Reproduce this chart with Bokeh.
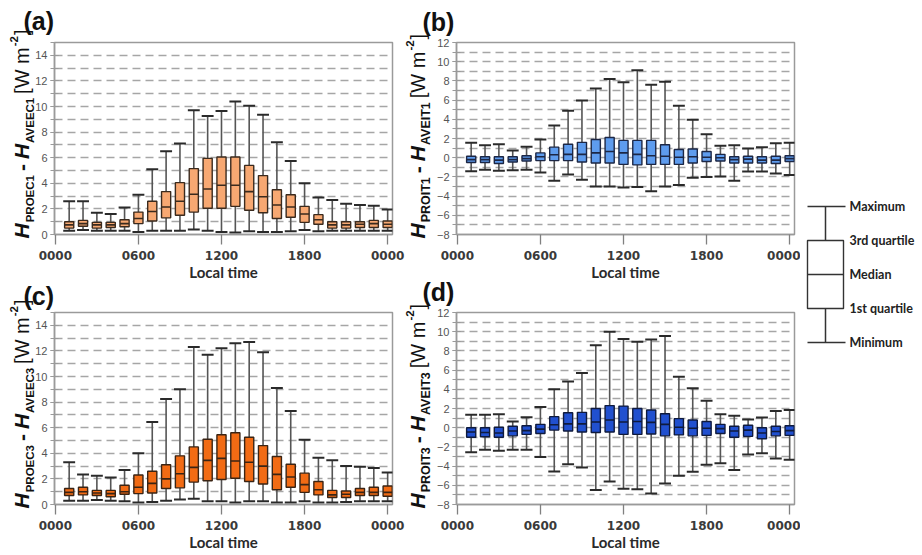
from bokeh.plotting import figure
from bokeh.models import ColumnDataSource, Range1d, FixedTicker, Label, GridBox, Column
from bokeh.transform import dodge
from bokeh.embed import file_html
from bokeh.resources import INLINE
from bokeh.core.properties import value
import math

# ---------------- data ----------------
hours = list(range(1, 25))
tick_hours = [0, 6, 12, 18, 24]
tick_labels = ["0000", "0600", "1200", "1800", "0000"]

# (a) H_PROEC1 - H_AVEEC1
a_min = [0.3, 0.35, 0.3, 0.3, 0.3, 0.2, 0.3, 0.3, 0.3, 0.4, 0.3, 0.2, 0.15, 0.25, 0.2, 0.2, 0.25, 0.35, 0.25, 0.3, 0.3, 0.3, 0.3, 0.3]
a_q1 = [0.5, 0.65, 0.5, 0.55, 0.6, 0.85, 1.05, 1.3, 1.5, 1.75, 2.05, 2.05, 2.2, 1.9, 1.7, 1.25, 1.35, 0.95, 0.8, 0.5, 0.5, 0.55, 0.55, 0.55]
a_med = [0.75, 0.85, 0.75, 0.75, 0.85, 1.25, 1.8, 2.15, 2.6, 3.15, 3.55, 3.85, 3.85, 3.35, 2.95, 2.3, 2.15, 1.6, 1.15, 0.75, 0.75, 0.8, 0.85, 0.8]
a_q3 = [1.0, 1.1, 0.95, 0.95, 1.15, 1.75, 2.6, 3.35, 4.05, 5.15, 5.95, 6.05, 6.05, 5.4, 4.6, 3.5, 3.1, 2.2, 1.55, 1.0, 1.0, 1.0, 1.1, 1.05]
a_max = [2.6, 2.6, 1.7, 1.6, 2.1, 3.1, 5.1, 6.5, 7.1, 9.7, 9.25, 9.65, 10.4, 10.05, 9.35, 7.2, 5.75, 4.0, 2.9, 2.7, 2.4, 2.3, 2.25, 1.95]

# (b) H_PROIT1 - H_AVEIT1
b_min = [-1.4, -1.25, -1.35, -1.3, -1.25, -1.55, -2.4, -1.75, -2.3, -3.0, -3.0, -3.1, -3.05, -3.5, -3.0, -2.85, -2.1, -2.0, -1.95, -2.4, -1.45, -1.45, -1.65, -1.8]
b_q1 = [-0.5, -0.5, -0.6, -0.45, -0.35, -0.3, -0.3, -0.3, -0.45, -0.55, -0.55, -0.7, -0.75, -0.7, -0.7, -0.7, -0.55, -0.4, -0.35, -0.55, -0.55, -0.55, -0.6, -0.4]
b_med = [-0.2, -0.2, -0.25, -0.2, -0.1, 0.1, 0.3, 0.35, 0.35, 0.5, 0.65, 0.5, 0.35, 0.2, 0.15, 0.05, 0.1, 0.05, 0.0, -0.2, -0.15, -0.25, -0.25, -0.1]
b_q3 = [0.15, 0.1, 0.1, 0.1, 0.2, 0.5, 1.1, 1.4, 1.6, 1.9, 2.1, 1.8, 1.8, 1.8, 1.35, 0.85, 0.9, 0.65, 0.35, 0.1, 0.15, 0.1, 0.15, 0.2]
b_max = [1.55, 1.3, 1.4, 0.75, 1.15, 1.9, 3.35, 4.9, 5.95, 7.2, 8.2, 7.85, 9.1, 7.6, 7.9, 5.4, 3.95, 2.45, 1.25, 1.3, 0.95, 1.1, 1.5, 1.55]

# (c) H_PROEC3 - H_AVEEC3
c_min = [0.3, 0.3, 0.35, 0.3, 0.25, 0.15, 0.2, 0.3, 0.4, 0.45, 0.25, 0.25, 0.15, 0.25, 0.25, 0.15, 0.15, 0.25, 0.15, 0.15, 0.2, 0.25, 0.25, 0.25]
c_q1 = [0.7, 0.75, 0.7, 0.6, 0.8, 0.85, 0.9, 1.25, 1.3, 1.75, 1.85, 1.95, 2.05, 1.8, 1.6, 1.15, 1.35, 0.95, 0.75, 0.55, 0.55, 0.7, 0.7, 0.65]
c_med = [0.95, 1.0, 0.9, 0.85, 1.0, 1.35, 1.65, 2.0, 2.4, 2.9, 3.45, 3.6, 3.4, 3.3, 3.0, 2.35, 2.15, 1.55, 1.15, 0.75, 0.8, 0.95, 0.95, 0.95]
c_q3 = [1.25, 1.35, 1.1, 1.1, 1.5, 2.3, 2.6, 3.1, 3.8, 4.5, 5.1, 5.45, 5.6, 5.25, 4.6, 3.75, 3.15, 2.45, 1.8, 1.1, 1.05, 1.25, 1.35, 1.45]
c_max = [3.3, 2.35, 2.25, 2.1, 2.7, 4.0, 6.45, 8.25, 9.0, 12.3, 11.7, 12.2, 12.6, 12.7, 11.9, 9.1, 7.3, 5.05, 3.65, 3.45, 3.0, 2.95, 2.85, 2.5]

# (d) H_PROIT3 - H_AVEIT3
d_min = [-2.55, -2.3, -2.4, -2.3, -2.3, -3.05, -4.55, -3.8, -4.15, -6.5, -5.6, -6.35, -6.4, -6.85, -5.8, -5.0, -4.6, -3.85, -3.7, -4.4, -2.8, -2.65, -3.2, -3.35]
d_q1 = [-1.0, -0.95, -1.0, -0.85, -0.7, -0.6, -0.25, -0.35, -0.45, -0.5, -0.45, -0.7, -0.7, -0.65, -0.85, -0.75, -0.85, -0.8, -0.6, -1.0, -0.9, -1.15, -0.85, -0.8]
d_med = [-0.45, -0.5, -0.55, -0.35, -0.3, -0.15, 0.3, 0.4, 0.4, 0.6, 0.8, 0.6, 0.65, 0.55, 0.35, 0.05, -0.05, -0.05, -0.1, -0.35, -0.25, -0.55, -0.4, -0.3]
d_q3 = [0.0, 0.0, 0.05, 0.15, 0.2, 0.35, 1.15, 1.55, 1.6, 2.0, 2.3, 2.25, 2.0, 1.85, 1.45, 0.95, 0.8, 0.65, 0.35, 0.15, 0.25, 0.0, 0.15, 0.2]
d_max = [1.35, 1.35, 1.4, 0.65, 1.1, 2.15, 4.0, 4.8, 5.7, 8.6, 10.0, 9.25, 8.95, 9.2, 9.55, 5.3, 4.1, 2.8, 1.4, 1.25, 0.85, 1.05, 1.75, 1.85]

# schematic key (minimum, 1st quartile, median, 3rd quartile, maximum)
key_vals = [0, 1, 2, 3, 4]
key_names = ["Minimum", "1st quartile", "Median", "3rd quartile", "Maximum"]

# ---------------- helpers ----------------
BOX_W = 0.66
CAP_W = 0.86
LABEL_FONT = "Liberation Sans"
W_TOT, H_TOT = 922, 555

CW = {"A": .722, "B": .722, "C": .722, "E": .667, "I": .278, "O": .778, "P": .667,
      "R": .722, "T": .611, "V": .667, "W": .944, "H": .722, "1": .556, "3": .556,
      "2": .556, "-": .333, "[": .278, "]": .278, " ": .278, "m": .833}


def tw(s, size):
    return sum(CW.get(ch, .6) for ch in s) * size


def make_panel(stats, ylo, yhi, fill, edge, width, height, bl, br, bt, bb):
    mn, q1, md, q3, mx = stats
    src = ColumnDataSource(dict(x=hours, mn=mn, q1=q1, md=md, q3=q3, mx=mx))
    p = figure(width=width, height=height, output_backend="svg", toolbar_location=None,
               x_range=Range1d(-0.06, 24.35), y_range=Range1d(ylo, yhi),
               min_border_left=bl, min_border_right=br, min_border_top=bt,
               min_border_bottom=bb, background_fill_color="white",
               border_fill_color="white")
    p.outline_line_color = "#9a9a9a"
    p.outline_line_width = 1.5

    p.xgrid.visible = False
    p.ygrid.ticker = FixedTicker(ticks=list(range(ylo, yhi + 1)))
    p.ygrid.grid_line_color = "#a6a6a6"
    p.ygrid.grid_line_dash = "8 5"
    p.ygrid.grid_line_width = 1.3

    xa = p.xaxis[0]
    xa.ticker = FixedTicker(ticks=tick_hours)
    xa.major_label_overrides = {h: l for h, l in zip(tick_hours, tick_labels)}
    xa.major_tick_out = 10
    xa.major_tick_in = 0
    xa.minor_tick_line_color = None
    xa.axis_line_color = "#9a9a9a"
    xa.axis_line_width = 1.5
    xa.major_tick_line_color = "#808080"
    xa.major_tick_line_width = 1.3
    xa.major_label_text_font = "DejaVu Sans"
    xa.major_label_text_font_style = "bold"
    xa.major_label_text_font_size = "12px"
    xa.major_label_text_color = "#3a3a3a"
    xa.major_label_standoff = 6

    ya = p.yaxis[0]
    ya.ticker = FixedTicker(ticks=list(range(ylo, yhi + 1, 2)),
                            minor_ticks=list(range(ylo, yhi + 1)))
    ya.major_tick_out = 4
    ya.major_tick_in = 4
    ya.minor_tick_out = 4
    ya.minor_tick_in = 4
    ya.axis_line_color = "#9a9a9a"
    ya.axis_line_width = 1.5
    ya.major_tick_line_color = "#9a9a9a"
    ya.minor_tick_line_color = "#9a9a9a"
    ya.major_label_text_font = "Liberation Sans"
    ya.major_label_text_font_size = "11px"
    ya.major_label_text_color = "#555555"
    ya.major_label_standoff = 3

    p.segment(x0="x", y0="mn", x1="x", y1="q1", source=src, line_color="#555555", line_width=1.6)
    p.segment(x0="x", y0="q3", x1="x", y1="mx", source=src, line_color="#555555", line_width=1.6)
    p.segment(x0=dodge("x", -CAP_W / 2), y0="mx", x1=dodge("x", CAP_W / 2), y1="mx",
              source=src, line_color="#2a2a2a", line_width=2)
    p.segment(x0=dodge("x", -CAP_W / 2), y0="mn", x1=dodge("x", CAP_W / 2), y1="mn",
              source=src, line_color="#2a2a2a", line_width=2)
    p.vbar(x="x", width=BOX_W, bottom="q1", top="q3", source=src,
           fill_color=fill, line_color=edge, line_width=1.4)
    p.segment(x0=dodge("x", -BOX_W / 2), y0="md", x1=dodge("x", BOX_W / 2), y1="md",
              source=src, line_color=edge, line_width=1.6)
    return p


# frames: a/c x 54..392, b/d x 456..794 ; rows: frame y 42..234 and 312..504
pa = make_panel((a_min, a_q1, a_med, a_q3, a_max), 0, 15, "#F7A872", "#3a2a1e", 410, 282, 54, 18, 42, 48)
pb = make_panel((b_min, b_q1, b_med, b_q3, b_max), -8, 12, "#5E9CEE", "#1c2745", 390, 282, 46, 6, 42, 48)
pc = make_panel((c_min, c_q1, c_med, c_q3, c_max), 0, 15, "#F26B14", "#3a2414", 410, 273, 54, 18, 30, 51)
pd = make_panel((d_min, d_q1, d_med, d_q3, d_max), -8, 12, "#2150CF", "#0f1a3d", 390, 273, 46, 6, 30, 51)

# ---------------- key figure ----------------
# key value v sits at page y = 342 - 34 v
pk = figure(width=122, height=H_TOT, output_backend="svg", toolbar_location=None,
            x_range=Range1d(0, 122), y_range=Range1d((342 - H_TOT) / 34, 342 / 34),
            min_border=0, min_border_left=0, min_border_right=0,
            min_border_top=0, min_border_bottom=0,
            x_axis_location=None, y_axis_location=None)
pk.grid.visible = False
pk.outline_line_color = None
kx = 25
ksrc = ColumnDataSource(dict(x=[kx], mn=[key_vals[0]], q1=[key_vals[1]], md=[key_vals[2]],
                             q3=[key_vals[3]], mx=[key_vals[4]]))
pk.segment(x0="x", y0="mn", x1="x", y1="q1", source=ksrc, line_color="#333333", line_width=1.5)
pk.segment(x0="x", y0="q3", x1="x", y1="mx", source=ksrc, line_color="#333333", line_width=1.5)
pk.segment(x0=dodge("x", -18), y0="mx", x1=dodge("x", 20), y1="mx", source=ksrc,
           line_color="#333333", line_width=1.5)
pk.segment(x0=dodge("x", -18), y0="mn", x1=dodge("x", 20), y1="mn", source=ksrc,
           line_color="#333333", line_width=1.5)
pk.vbar(x="x", width=36, bottom="q1", top="q3", source=ksrc, fill_color="white",
        line_color="#333333", line_width=1.4)
pk.segment(x0=dodge("x", -18), y0="md", x1=dodge("x", 18), y1="md", source=ksrc,
           line_color="#333333", line_width=1.4)
tsrc = ColumnDataSource(dict(x=[49] * 5, y=key_vals, t=key_names))
pk.text(x="x", y="y", text="t", source=tsrc, text_font=value("Lato"),
        text_font_size="12.5px", text_font_style="bold", text_color="#222222",
        text_baseline="middle", text_align="left")

# ---------------- text overlay (page pixels, y measured upward) ----------------
ov = figure(width=W_TOT, height=H_TOT, output_backend="svg", toolbar_location=None,
            x_range=Range1d(0, W_TOT), y_range=Range1d(0, H_TOT),
            min_border=0, min_border_left=0, min_border_right=0,
            min_border_top=0, min_border_bottom=0,
            x_axis_location=None, y_axis_location=None,
            background_fill_alpha=0, border_fill_alpha=0)
ov.grid.visible = False
ov.outline_line_color = None


def put(x, y_page, txt, size, style="normal", angle=0.0, align="left",
        baseline="middle", font=LABEL_FONT, color="#111111"):
    ov.add_layout(Label(x=x, y=H_TOT - y_page, text=txt, angle=angle,
                        text_font=font, text_font_size=f"{size}px",
                        text_font_style=style, text_color=color,
                        text_align=align, text_baseline=baseline))


def ylabel(x_center, y_start_page, sub1, sub2, sub_size):
    pieces = [
        ("H", 21, "bold italic", 0, 1),
        (sub1, sub_size, "bold", 8.5, 4),
        ("-", 21, "bold", 0, 5),
        ("H", 21, "bold italic", 0, 1),
        (sub2, sub_size, "bold", 8.5, 3),
        ("[W m", 20, "normal", 0, 1),
        ("-2", 11.5, "bold", -7.5, 1),
        ("]", 20, "normal", 0, 0),
    ]
    yp = y_start_page
    for txt, size, style, dx, gap in pieces:
        put(x_center + dx, yp, txt, size, style, angle=math.pi / 2)
        yp -= tw(txt, size) + gap


# letter, sub1, sub2, subscript size, label centre x, frame left, frame bottom, letter x, letter centre y
panels = [("(a)", "PROEC1", "AVEEC1", 11.5, 21, 54, 234, 23, 20),
          ("(b)", "PROIT1", "AVEIT1", 12.5, 417, 456, 234, 422, 21),
          ("(c)", "PROEC3", "AVEEC3", 11.5, 21, 54, 504, 23, 295),
          ("(d)", "PROIT3", "AVEIT3", 12.5, 417, 456, 504, 422, 291)]
for letter, s1, s2, ssz, lxc, fl, fb, lx, ly in panels:
    ylabel(lxc, fb + 4, s1, s2, ssz)
    put(lx, ly, letter, 25, "bold")
    put(fl + 169, fb + 37, "Local time", 15, "bold", align="center",
        font="Lato", color="#2a2a2a")

# wrappers keep the key and the text layer out of the grid's frame alignment
layout = GridBox(children=[(pa, 0, 0), (pb, 0, 1), (Column(children=[pk]), 0, 2, 2, 1),
                           (pc, 1, 0), (pd, 1, 1), (Column(children=[ov]), 0, 0, 2, 3)])
open("out.html", "w").write(file_html(layout, INLINE))
